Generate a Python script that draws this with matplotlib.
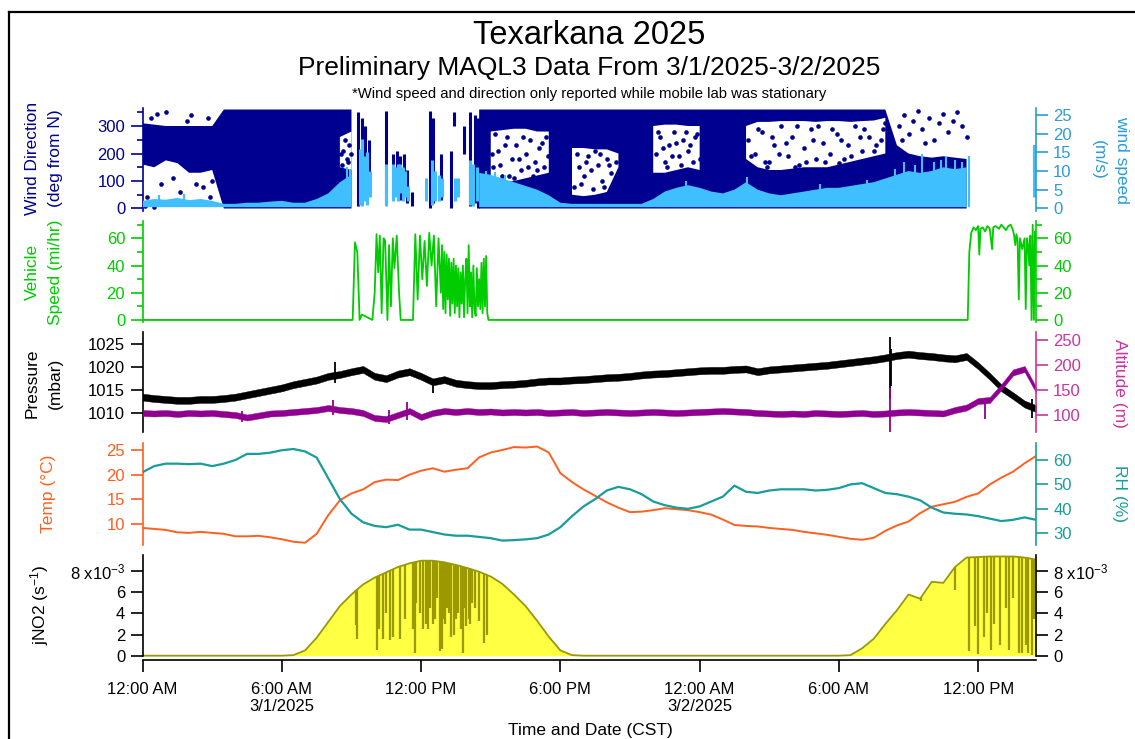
import numpy as np
import matplotlib.pyplot as plt
from matplotlib.lines import Line2D
from matplotlib.ticker import FixedLocator

plt.rcParams['font.family'] = ['Liberation Sans', 'DejaVu Sans']
plt.rcParams['mathtext.fontset'] = 'custom'
plt.rcParams['mathtext.rm'] = 'Liberation Sans'
plt.rcParams['mathtext.it'] = 'Liberation Sans:italic'

nan = np.nan

# hours since 12:00 AM 3/1/2025 (CST), half-hour readings
hours = np.arange(0, 38.51, 0.5)

# wind direction (deg): dense band edges and white holes inside it
wd_lo = [160, 150, 175, 165, 130, 130, 140, 0, 0, 0,
         0, 0, 0, 0, 0, 0, 0, 0, 0, nan,
         nan, nan, nan, nan, nan, nan, nan, nan, nan, 0,
         0, 0, 0, 0, 0, 0, 0, 0, 0, 0,
         0, 0, 0, 0, 0, 0, 0, 0, 0, 0,
         0, 0, 0, 0, 0, 0, 0, 0, 0, 0,
         0, 0, 0, 0, 0, 0, 0, 0, 0, 0,
         0, 0, nan, nan, nan, nan, nan, nan]
wd_hi = [310, 305, 300, 300, 300, 300, 300, 360, 360, 360,
         360, 360, 360, 360, 360, 360, 360, 360, 360, nan,
         nan, nan, nan, nan, nan, nan, nan, nan, nan, 360,
         360, 360, 360, 360, 360, 360, 360, 360, 360, 360,
         360, 360, 360, 360, 360, 360, 360, 360, 360, 360,
         360, 360, 360, 360, 360, 360, 360, 360, 360, 360,
         360, 360, 360, 360, 360, 230, 200, 190, 185, 190,
         185, 180, nan, nan, nan, nan, nan, nan]
gap_lo = [nan, nan, nan, nan, nan, nan, nan, nan, nan, nan,
          nan, nan, nan, nan, nan, nan, nan, 150, 140, nan,
          nan, nan, nan, nan, nan, nan, nan, nan, nan, nan,
          100, 95, 100, 110, 120, 130, nan, 50, 45, 50,
          60, 150, nan, nan, 130, 130, 140, 150, 140, nan,
          nan, nan, 180, 150, 140, 140, 145, 150, 150, 150,
          160, 170, 180, 190, 200, nan, nan, nan, nan, nan,
          nan, nan, nan, nan, nan, nan, nan, nan]
gap_hi = [nan, nan, nan, nan, nan, nan, nan, nan, nan, nan,
          nan, nan, nan, nan, nan, nan, nan, 260, 280, nan,
          nan, nan, nan, nan, nan, nan, nan, nan, nan, nan,
          280, 285, 290, 290, 280, 280, nan, 220, 220, 215,
          215, 200, nan, nan, 300, 305, 305, 300, 300, nan,
          nan, nan, 300, 315, 315, 318, 318, 318, 315, 318,
          318, 315, 318, 320, 330, nan, nan, nan, nan, nan,
          nan, nan, nan, nan, nan, nan, nan, nan]

# single wind direction readings outside the dense band
dot_t = [0.1, 0.2, 0.35, 0.5, 0.6, 0.8, 1.0, 1.3, 1.6, 1.9, 2.0, 2.1, 2.3, 2.6, 2.8, 2.9, 3.0,
         8.55, 8.6, 8.7, 8.8, 8.9, 9.0, 8.65, 8.85,
         15.1, 15.2, 15.3, 15.5, 15.7, 15.9, 16.0, 16.1, 16.3, 16.5, 16.7, 16.8, 16.9, 17.1, 17.3, 17.4,
         15.05, 15.4, 15.6, 15.8, 16.2, 16.4, 16.6, 17.0, 17.2, 17.45,
         18.6, 18.7, 18.8, 19.0, 19.2, 19.4, 19.5, 19.6, 19.8, 20.0, 20.2,
         18.9, 19.1, 19.3, 19.7, 19.9, 20.1, 20.4,
         22.1, 22.3, 22.5, 22.6, 22.7, 22.9, 23.1, 23.3, 23.5, 23.7, 23.9, 24.1,
         22.2, 22.4, 22.8, 23.0, 23.2, 23.4, 23.6, 23.8, 24.0, 24.2,
         26.1, 26.4, 26.7, 26.9, 27.0, 27.2, 27.5, 27.8, 28.0, 28.1, 28.3, 28.5, 28.8, 29.0,
         29.3, 29.6, 29.9, 30.0, 30.2, 30.4, 30.7, 31.0, 31.3, 31.6, 31.9,
         26.2, 26.5, 26.8, 27.1, 27.4, 27.7, 28.2, 28.6, 28.9, 29.1, 29.4, 29.7, 30.1, 30.5,
         30.9, 31.1, 31.5, 31.8, 32.0,
         32.6, 32.7, 32.8, 33.0, 33.2, 33.4, 33.6, 33.7, 33.9, 34.1, 34.3, 34.5, 34.7, 34.9,
         35.1, 35.3, 35.5]
dot_deg = [10, 40, 330, 5, 345, 90, 350, 110, 60, 320, 20, 340, 90, 80, 330, 40, 100,
           200, 160, 250, 180, 230, 200, 210, 170,
           150, 270, 210, 120, 260, 180, 110, 230, 140, 200, 250, 120, 170, 220, 150, 260,
           200, 160, 230, 120, 180, 260, 150, 140, 240, 190,
           80, 200, 150, 120, 190, 70, 210, 160, 100, 180, 130,
           90, 170, 140, 200, 80, 160, 170,
           200, 260, 170, 150, 230, 280, 190, 250, 210, 170, 270, 220,
           280, 220, 190, 240, 160, 280, 230, 260, 180, 260,
           250, 200, 280, 150, 170, 230, 300, 190, 260, 150, 160, 220, 290, 180,
           240, 200, 270, 165, 180, 230, 300, 210, 260, 230, 290,
           190, 290, 170, 260, 200, 240, 300, 170, 250, 300, 170, 290, 250, 190,
           260, 290, 210, 250, 310,
           300, 250, 340, 270, 320, 355, 290, 240, 330, 250, 310, 345, 280, 320,
           350, 300, 260]

# wind direction while driving (short bursts of readings)
mob_t = [9.3, 9.45, 9.6, 9.75, 10.5, 10.8, 10.95, 11.1, 11.25, 11.4, 11.6,
         12.4, 12.5, 12.85, 13.3, 13.4, 13.85, 14.1, 14.3, 14.45, 38.42]
mob_lo = [10, 30, 150, 100, 20, 40, 60, 30, 50, 20, 10,
          0, 20, 30, 0, 300, 200, 10, 20, 0, 140]
mob_hi = [350, 330, 300, 250, 355, 200, 210, 190, 200, 140, 60,
          355, 330, 200, 210, 350, 300, 350, 340, 330, 230]

# wind speed (m/s): top of the band, plus single gusts
ws_hi = [2.0, 2.5, 2.3, 2.8, 2.2, 2.5, 2.0, 1.2, 1.2, 1.5,
         1.5, 1.8, 2.0, 1.5, 1.5, 2.5, 4.0, 7.0, 9.0, nan,
         nan, nan, nan, nan, nan, nan, nan, nan, nan, 9.5,
         9.0, 8.0, 7.0, 6.0, 5.0, 3.5, 1.5, 1.2, 1.2, 1.2,
         1.2, 1.2, 1.2, 1.2, 2.5, 4.5, 5.5, 6.2, 5.5, 4.5,
         4.0, 5.0, 7.0, 5.0, 4.0, 3.5, 4.0, 4.5, 5.0, 5.5,
         5.5, 6.0, 6.5, 7.0, 8.0, 9.0, 10.0, 9.5, 10.0, 11.0,
         10.5, 11.0, nan, nan, nan, nan, nan, nan]
gust_t = [0.7, 1.8, 8.8, 8.95, 14.8, 15.2, 15.6, 23.4, 26.05, 29.2, 31.2,
          32.4, 32.8, 33.3, 33.6, 34.1, 34.4, 34.6, 35.0, 35.3, 35.6]
gust_v = [3.5, 3.8, 11, 10.5, 10, 9.8, 9, 7.2, 8.5, 6.5, 7.5,
          10.5, 12.5, 11.5, 14.5, 12.5, 13, 14, 13, 12.5, 14]
mob_ws_t = [9.35, 9.45, 9.55, 9.65, 9.8, 10.5, 10.8, 10.9, 11.0, 11.1, 11.2, 11.3, 11.45,
            12.2, 12.45, 12.6, 12.75, 12.9, 13.45, 13.6, 14.1, 14.25, 14.4, 38.42]
mob_ws_lo = [1, 0.5, 2, 1, 3, 0.5, 2, 3, 2, 4, 2, 3, 2,
             2, 1, 2, 2, 3, 2, 3, 1, 0.5, 2, 3]
mob_ws_hi = [16, 18.5, 14, 15, 10, 12, 12, 11, 12, 12, 11, 10, 6,
             8, 13, 10, 9, 8, 8, 8, 13, 12, 11, 17]

# vehicle speed (mi/hr)
veh_t = [0, 9.05, 9.15, 9.25, 9.35, 9.45, 9.9, 10.0, 10.08, 10.15, 10.22, 10.3, 10.38, 10.45,
         10.55, 10.62, 10.7, 10.78, 10.85, 10.95, 11.05, 11.12, 11.65, 11.75, 11.85, 11.95,
         12.05, 12.15, 12.25, 12.35, 12.45, 12.55, 12.65, 12.75, 12.85, 12.9, 12.95, 13.0,
         13.05, 13.1, 13.15, 13.2, 13.25, 13.3, 13.35, 13.4, 13.45, 13.5, 13.55, 13.6, 13.65,
         13.7, 13.75, 13.8, 13.85, 13.9, 13.95, 14.0, 14.05, 14.1, 14.15, 14.2, 14.25, 14.3,
         14.35, 14.4, 14.45, 14.5, 14.55, 14.6, 14.65, 14.7, 14.75, 14.8, 14.85, 14.9,
         35.55, 35.62, 35.7, 35.8, 35.9, 36.0, 36.05, 36.1, 36.2, 36.3, 36.4, 36.5, 36.6,
         36.65, 36.75, 36.9, 37.0, 37.1, 37.2, 37.3, 37.4, 37.5, 37.55, 37.6, 37.65, 37.7,
         37.75, 37.8, 37.9, 38.0, 38.05, 38.1, 38.15, 38.2, 38.25, 38.3, 38.35, 38.4, 38.45, 38.48]
veh_v = [0, 0, 57, 50, 0, 4, 0, 20, 63, 35, 62, 5, 60, 58,
         0, 55, 10, 60, 38, 62, 20, 0, 0, 63, 15, 62,
         30, 58, 25, 64, 40, 62, 10, 60, 20, 55, 8, 50,
         5, 48, 15, 45, 3, 42, 12, 45, 5, 40, 10, 38, 2,
         35, 12, 40, 2, 30, 45, 5, 55, 10, 35, 2, 40, 8,
         3, 38, 10, 30, 8, 42, 5, 45, 10, 47, 5, 0,
         0, 50, 64, 68, 66, 69, 48, 67, 68, 65, 69, 67, 52,
         68, 69, 67, 70, 68, 66, 69, 70, 66, 62, 55, 63, 58,
         15, 60, 52, 60, 8, 60, 55, 40, 62, 0, 70, 0, 65, 60]

# pressure (mbar) and altitude (m)
pressure = [1013.5, 1013.2, 1013.0, 1012.8, 1012.8, 1013.0, 1013.0, 1013.2, 1013.5, 1014.0,
            1014.5, 1015.0, 1015.5, 1016.2, 1016.7, 1017.2, 1018.0, 1018.4, 1019.0, 1019.5,
            1018.0, 1017.5, 1018.5, 1019.0, 1018.0, 1016.8, 1017.3, 1016.5, 1016.2, 1016.0,
            1016.0, 1016.2, 1016.3, 1016.5, 1016.8, 1017.0, 1017.0, 1017.2, 1017.3, 1017.5,
            1017.7, 1017.8, 1018.0, 1018.3, 1018.5, 1018.6, 1018.8, 1019.0, 1019.2, 1019.3,
            1019.3, 1019.5, 1019.6, 1019.0, 1019.4, 1019.6, 1019.8, 1020.0, 1020.2, 1020.4,
            1020.7, 1021.0, 1021.3, 1021.6, 1022.0, 1022.5, 1022.8, 1022.5, 1022.3, 1022.0,
            1021.8, 1022.3, 1020.3, 1018.0, 1015.5, 1013.8, 1012.0, 1011.0]
p_spike_t = [8.3, 12.5, 32.2, 32.25, 38.3]
p_spike_lo = [1016.5, 1014.5, 1013.0, 1016.0, 1009.0]
p_spike_hi = [1021.0, 1017.5, 1026.5, 1024.0, 1013.0]
altitude = [104, 103, 104, 102, 104, 103, 104, 102, 100, 95,
            99, 103, 104, 106, 108, 110, 114, 110, 108, 104,
            94, 92, 100, 108, 96, 104, 108, 106, 108, 106,
            107, 105, 106, 105, 106, 104, 105, 106, 104, 105,
            106, 105, 104, 105, 106, 105, 104, 105, 106, 107,
            108, 107, 106, 104, 103, 102, 103, 102, 104, 103,
            102, 103, 104, 102, 103, 105, 106, 105, 104, 103,
            110, 115, 128, 130, 156, 185, 192, 150]
a_spike_t = [4.3, 8.2, 10.6, 11.4, 32.2, 36.3]
a_spike_lo = [85, 100, 82, 90, 66, 92]
a_spike_hi = [108, 130, 110, 126, 155, 125]

# temperature (C) and relative humidity (%)
temp = [9.2, 9.0, 8.8, 8.3, 8.2, 8.4, 8.2, 8.0, 7.5, 7.5,
        7.6, 7.3, 6.9, 6.4, 6.2, 8.0, 11.8, 14.8, 16.2, 17.0,
        18.5, 19.0, 18.9, 20.0, 20.8, 21.3, 20.6, 21.0, 21.3, 23.5,
        24.5, 25.0, 25.6, 25.5, 25.7, 24.5, 20.3, 18.5, 17.0, 15.7,
        14.4, 13.3, 12.4, 12.5, 12.8, 13.2, 13.0, 12.8, 12.4, 11.9,
        10.9, 9.8, 9.6, 9.5, 9.2, 9.0, 8.8, 8.4, 8.1, 7.8,
        7.4, 7.0, 6.8, 7.2, 8.6, 9.7, 10.5, 12.2, 13.5, 14.0,
        14.5, 15.5, 16.2, 18.0, 19.4, 20.6, 22.3, 23.8]
rh = [55.0, 57.5, 58.5, 58.5, 58.3, 58.5, 57.5, 58.5, 60.0, 62.5,
      62.5, 63.0, 64.0, 64.5, 63.5, 61.0, 52.5, 44.0, 38.0, 34.5,
      33.0, 32.5, 33.5, 31.5, 31.5, 30.5, 29.5, 29.0, 29.0, 28.5,
      28.0, 27.0, 27.2, 27.5, 28.0, 29.5, 32.5, 37.0, 41.0, 44.0,
      47.5, 49.0, 48.0, 46.0, 43.0, 41.5, 40.5, 40.0, 41.0, 43.0,
      45.0, 49.5, 47.0, 46.5, 47.5, 48.0, 48.0, 48.0, 47.5, 47.8,
      48.5, 50.0, 50.5, 48.5, 46.5, 46.0, 45.0, 43.5, 40.5, 38.5,
      38.0, 37.7, 37.0, 36.0, 35.0, 35.5, 36.5, 35.5]

# jNO2 (1e-3 s^-1): clear-sky envelope and cloud / shading drops
jno2 = [0, 0, 0, 0, 0, 0, 0, 0, 0, 0,
        0, 0, 0, 0.05, 0.5, 1.7, 3.2, 4.7, 5.8, 6.75,
        7.4, 7.9, 8.4, 8.75, 9.0, 9.0, 8.85, 8.6, 8.3, 7.95,
        7.5, 6.8, 5.8, 4.7, 3.3, 1.8, 0.5, 0.05, 0, 0,
        0, 0, 0, 0, 0, 0, 0, 0, 0, 0,
        0, 0, 0, 0, 0, 0, 0, 0, 0, 0,
        0, 0.05, 0.7, 1.6, 3.0, 4.3, 5.8, 5.4, 7.0, 6.9,
        8.4, 9.3, 9.35, 9.4, 9.4, 9.4, 9.3, 9.1]
dip_t = [9.2, 9.25, 10.1, 10.2, 10.35, 10.5, 10.65, 10.8, 11.1, 11.3, 11.65, 11.75, 11.8,
         11.95, 12.1, 12.2, 12.3, 12.4, 12.5, 12.6, 12.7, 12.8, 12.9, 13.0, 13.05, 13.1, 13.2,
         13.3, 13.4, 13.5, 13.6, 13.7, 13.8, 13.9, 13.95, 14.05, 14.1, 14.2, 14.3, 14.5, 14.7, 14.85,
         33.55, 35.0, 35.6, 35.85, 36.0, 36.25, 36.4, 36.55, 36.7, 36.95, 37.2, 37.35, 37.5,
         37.75, 37.9, 38.05, 38.15, 38.3, 38.4]
dip_v = [2.9, 1.6, 0.5, 2.5, 1.6, 4.0, 1.5, 1.8, 1.6, 3.5, 2.5, 0.3, 5.0,
         4.0, 2.5, 3.0, 2.5, 4.5, 3.0, 3.5, 5.5, 0.4, 0.6, 3.5, 3.0, 4.5, 4.0,
         1.8, 2.0, 3.5, 4.0, 2.5, 0.3, 4.5, 2.8, 3.5, 3.0, 5.0, 4.5, 3.3, 1.2, 2.0,
         5.2, 6.2, 0.4, 2.8, 0.2, 1.8, 4.0, 0.5, 3.0, 1.0, 4.5, 0.5, 5.5,
         0.3, 0.3, 1.0, 0.3, 0.1, 3.5]

tick_hours = [0, 6, 12, 18, 24, 30, 36]
tick_labels = ['12:00 AM', '6:00 AM\n3/1/2025', '12:00 PM', '6:00 PM',
               '12:00 AM\n3/2/2025', '6:00 AM', '12:00 PM']

NAVY = '#000090'
LBLUE = '#40BFFF'
WSAX = '#2B9BD8'
GREEN = '#00CC00'
PURPLE = '#900090'
MAGENTA = '#CC33A0'
ORANGE = '#FF5F1F'
TEAL = '#199C9C'
YELLOW = '#FFFF44'
OLIVE = '#9A9A00'

W, H = 1135, 739
X0, X1 = 142.6, 1035.8


def fx(x):
    return x / W


def fy(y):
    return 1 - y / H


def box(top, bottom):
    return [X0 / W, 1 - bottom / H, (X1 - X0) / W, (bottom - top) / H]


def style(ax, side, color, major, minor=None):
    for s in ['top', 'bottom', 'left', 'right']:
        ax.spines[s].set_visible(s == side)
    ax.spines[side].set_color(color)
    ax.spines[side].set_linewidth(1.2)
    ax.yaxis.set_ticks_position(side)
    ax.yaxis.set_major_locator(FixedLocator(major))
    if minor:
        ax.yaxis.set_minor_locator(FixedLocator(minor))
    ax.tick_params(axis='y', which='both', direction='out', colors=color,
                   labelsize=12, width=1.2, pad=4)
    ax.tick_params(axis='y', which='major', length=8.5)
    ax.tick_params(axis='y', which='minor', length=4.3)
    ax.tick_params(axis='x', which='both', bottom=False, labelbottom=False)
    ax.patch.set_visible(False)


fig = plt.figure(figsize=(W / 100, H / 100), dpi=100)

# panel 1: wind direction / wind speed
ax1 = fig.add_axes(box(108, 211))
ax1r = ax1.twinx()
ax1.fill_between(hours, wd_lo, wd_hi, color=NAVY, lw=0)
ax1.fill_between(hours, gap_lo, gap_hi, color='white', lw=0)
ax1.scatter(dot_t, dot_deg, s=11, color=NAVY, lw=0)
ax1.vlines(mob_t, mob_lo, mob_hi, color=NAVY, lw=2.2)
ax1r.fill_between(hours, 0.3, ws_hi, color=LBLUE, lw=0)
ax1r.vlines(gust_t, 0.3, gust_v, color=LBLUE, lw=1.5)
ax1r.vlines(mob_ws_t, mob_ws_lo, mob_ws_hi, color=LBLUE, lw=2.2)
ax1.set_ylim(-9.1, 365.5)
ax1r.set_ylim(-0.72, 26.9)
style(ax1, 'left', NAVY, [0, 100, 200, 300], [50, 150, 250, 350])
style(ax1r, 'right', WSAX, [0, 5, 10, 15, 20, 25])

# panel 2: vehicle speed
ax2 = fig.add_axes(box(221, 322), sharex=ax1)
ax2r = ax2.twinx()
ax2.plot(veh_t, veh_v, color=GREEN, lw=1.3)
ax2.set_ylim(-1.5, 72.7)
ax2r.set_ylim(-1.5, 72.7)
style(ax2, 'left', GREEN, [0, 20, 40, 60], [10, 30, 50, 70])
style(ax2r, 'right', GREEN, [0, 20, 40, 60], [10, 30, 50, 70])

# panel 3: pressure / altitude
ax3 = fig.add_axes(box(332, 432), sharex=ax1)
ax3r = ax3.twinx()
p = np.array(pressure)
a = np.array(altitude)
ax3.fill_between(hours, p - 0.75, p + 0.75, color='black', lw=0.3)
ax3.vlines(p_spike_t, p_spike_lo, p_spike_hi, color='black', lw=1.3)
ax3r.fill_between(hours, a - 6, a + 6, color=PURPLE, lw=0.3)
ax3r.vlines(a_spike_t, a_spike_lo, a_spike_hi, color=PURPLE, lw=1.3)
ax3.set_ylim(1005.95, 1027.6)
ax3r.set_ylim(66, 266)
style(ax3, 'left', 'black', [1010, 1015, 1020, 1025])
style(ax3r, 'right', MAGENTA, [100, 150, 200, 250])

# panel 4: temperature / RH
ax4 = fig.add_axes(box(443, 545), sharex=ax1)
ax4r = ax4.twinx()
ax4.plot(hours, temp, color=ORANGE, lw=1.4)
ax4r.plot(hours, rh, color=TEAL, lw=1.6)
ax4.set_ylim(5.74, 26.42)
ax4r.set_ylim(25.2, 66.96)
style(ax4, 'left', ORANGE, [10, 15, 20, 25])
style(ax4r, 'right', TEAL, [30, 40, 50, 60])

# panel 5: jNO2
ax5 = fig.add_axes(box(555, 660), sharex=ax1)
ax5r = ax5.twinx()
ax5.fill_between(hours, 0, jno2, color=YELLOW, lw=0)
ax5.plot(hours, jno2, color=OLIVE, lw=1.3)
ax5.vlines(dip_t, dip_v, np.interp(dip_t, hours, jno2), color=OLIVE, lw=1.6)
ax5.set_ylim(-0.41, 9.54)
ax5r.set_ylim(-0.41, 9.54)
j_labels = ['0', '2', '4', '6', '8 x10$^{-3}$']
style(ax5, 'left', 'black', [0, 2, 4, 6, 8])
style(ax5r, 'right', 'black', [0, 2, 4, 6, 8])
ax5.set_yticklabels(j_labels)
ax5r.set_yticklabels(j_labels)
ax5.spines['left'].set_bounds(0, 9.54)
ax5r.spines['right'].set_bounds(0, 9.54)
ax5.spines['bottom'].set_visible(True)
ax5.spines['bottom'].set_linewidth(1.2)
ax5.set_xticks(tick_hours)
ax5.set_xticklabels(tick_labels)
ax5.tick_params(axis='x', which='major', bottom=True, labelbottom=True, direction='out',
                length=8.5, width=1.2, labelsize=12, pad=7)
ax5.set_xlim(0, (X1 - X0) / 23.21)

# axis titles
fig.text(fx(44), fy(158), 'Wind Direction\n(deg from N)', rotation=90, ha='center', va='center',
         color=NAVY, fontsize=12.5, linespacing=1.65)
fig.text(fx(44), fy(272), 'Vehicle\nSpeed (mi/hr)', rotation=90, ha='center', va='center',
         color=GREEN, fontsize=12.5, linespacing=1.65)
fig.text(fx(44), fy(383), 'Pressure\n(mbar)', rotation=90, ha='center', va='center',
         color='black', fontsize=12.5, linespacing=1.65)
fig.text(fx(48), fy(494), 'Temp (°C)', rotation=90, ha='center', va='center',
         color=ORANGE, fontsize=12.5)
fig.text(fx(40), fy(605), 'jNO2 (s$^{-1}$)', rotation=90, ha='center', va='center',
         color='black', fontsize=12.5)
fig.text(fx(1110), fy(160), 'wind speed\n(m/s)', rotation=-90, ha='center', va='center',
         color=WSAX, fontsize=12.5, linespacing=1.65)
fig.text(fx(1120), fy(383), 'Altitude (m)', rotation=-90, ha='center', va='center',
         color=MAGENTA, fontsize=12.5)
fig.text(fx(1120), fy(494), 'RH (%)', rotation=-90, ha='center', va='center',
         color=TEAL, fontsize=12.5)

fig.text(fx(589), fy(36), 'Texarkana 2025', ha='center', va='center', fontsize=23.5)
fig.text(fx(589), fy(68), 'Preliminary MAQL3 Data From 3/1/2025-3/2/2025', ha='center',
         va='center', fontsize=19)
fig.text(fx(589), fy(94), '*Wind speed and direction only reported while mobile lab was stationary',
         ha='center', va='center', fontsize=10.7)
fig.text(fx(590), fy(735), 'Time and Date (CST)', ha='center', va='baseline', fontsize=12.5)

# page frame
fig.add_artist(Line2D([fx(9), fx(9)], [fy(12), 0], color='black', lw=1.6))
fig.add_artist(Line2D([fx(9), 1], [fy(12), fy(12)], color='black', lw=1.6))

fig.savefig('out.png', dpi=100)
